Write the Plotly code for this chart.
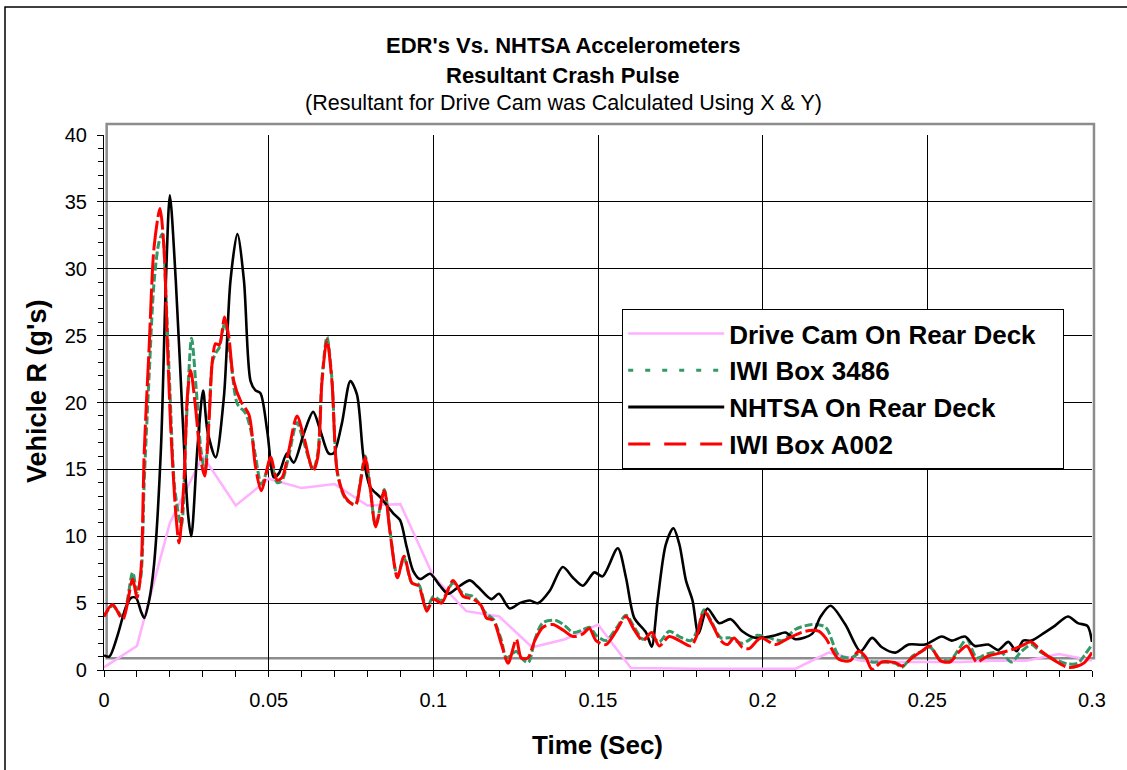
import plotly.graph_objects as go

# ---------------- data ----------------
drivecam_t = [0.00, 0.01, 0.02, 0.03, 0.04, 0.05, 0.06, 0.07, 0.08, 0.09,
              0.10, 0.11, 0.12, 0.13, 0.14, 0.15, 0.16, 0.17, 0.18, 0.19,
              0.20, 0.21, 0.22, 0.23, 0.24, 0.25, 0.26, 0.27, 0.28, 0.29,
              0.30]
drivecam_g = [0.2, 1.8, 11.0, 16.0, 12.3, 14.3, 13.6, 13.9, 12.3, 12.4,
              7.0, 4.4, 4.0, 1.7, 2.3, 3.4, 0.15, 0.1, 0.1, 0.1,
              0.1, 0.1, 1.3, 0.7, 0.6, 0.6, 0.6, 0.7, 0.7, 1.2,
              0.7]

nhtsa_t = [0.0000, 0.0016, 0.0040, 0.0065, 0.0082, 0.0097, 0.0112, 0.0122, 0.0137, 0.0152,
           0.0173, 0.0188, 0.0200, 0.0218, 0.0238, 0.0255, 0.0265, 0.0284, 0.0301, 0.0314,
           0.0339, 0.0364, 0.0384, 0.0405, 0.0425, 0.0445, 0.0460, 0.0475, 0.0496, 0.0516,
           0.0531, 0.0556, 0.0576, 0.0607, 0.0635, 0.0657, 0.0682, 0.0697, 0.0722, 0.0748,
           0.0768, 0.0788, 0.0808, 0.0839, 0.0879, 0.0899, 0.0919, 0.0939, 0.0960, 0.0990,
           0.1020, 0.1045, 0.1081, 0.1111, 0.1136, 0.1176, 0.1199, 0.1232, 0.1262, 0.1293,
           0.1318, 0.1353, 0.1393, 0.1424, 0.1454, 0.1489, 0.1514, 0.1560, 0.1585, 0.1610,
           0.1646, 0.1663, 0.1681, 0.1706, 0.1729, 0.1747, 0.1767, 0.1787, 0.1805, 0.1832,
           0.1868, 0.1903, 0.1938, 0.1979, 0.2039, 0.2069, 0.2100, 0.2150, 0.2176, 0.2206,
           0.2251, 0.2297, 0.2332, 0.2362, 0.2403, 0.2443, 0.2493, 0.2544, 0.2574, 0.2614,
           0.2644, 0.2685, 0.2715, 0.2746, 0.2771, 0.2791, 0.2816, 0.2856, 0.2887, 0.2927,
           0.2957, 0.2986, 0.3000]
nhtsa_g = [1.1, 1.0, 2.5, 4.6, 5.4, 5.4, 4.4, 3.9, 5.2, 7.9,
           16.6, 29.1, 35.5, 29.1, 19.2, 11.7, 10.0, 16.7, 20.9, 17.9,
           15.9, 20.4, 29.1, 32.6, 29.1, 21.6, 20.9, 20.7, 17.8, 14.4,
           14.7, 16.2, 15.5, 17.7, 19.3, 17.9, 16.2, 16.2, 18.4, 21.6,
           20.6, 15.9, 13.7, 12.9, 11.7, 11.2, 9.2, 7.4, 6.8, 7.2,
           6.3, 5.7, 6.3, 6.7, 6.2, 5.3, 5.7, 4.6, 5.0, 5.2,
           5.0, 5.9, 7.7, 6.9, 6.3, 7.3, 7.0, 9.1, 6.9, 3.9,
           2.8, 1.75, 5.2, 9.4, 10.6, 9.4, 6.7, 5.2, 2.7, 4.6,
           3.5, 3.8, 2.9, 2.4, 2.6, 2.8, 2.3, 2.7, 4.0, 4.8,
           3.4, 1.4, 2.4, 1.7, 1.3, 1.9, 1.9, 2.5, 2.2, 2.5,
           1.8, 1.9, 1.5, 2.1, 1.4, 2.2, 2.2, 2.8, 3.3, 4.0,
           3.5, 3.3, 2.1]

a002_t = [0.0000, 0.0026, 0.0057, 0.0087, 0.0100, 0.0112, 0.0122, 0.0137, 0.0152, 0.0170,
          0.0182, 0.0193, 0.0203, 0.0218, 0.0228, 0.0243, 0.0253, 0.0263, 0.0278, 0.0294,
          0.0306, 0.0319, 0.0329, 0.0339, 0.0350, 0.0366, 0.0379, 0.0394, 0.0415, 0.0440,
          0.0460, 0.0478, 0.0506, 0.0526, 0.0541, 0.0561, 0.0586, 0.0607, 0.0635, 0.0649,
          0.0662, 0.0677, 0.0692, 0.0709, 0.0733, 0.0763, 0.0778, 0.0793, 0.0808, 0.0825,
          0.0851, 0.0869, 0.0891, 0.0911, 0.0935, 0.0955, 0.0980, 0.1000, 0.1025, 0.1060,
          0.1091, 0.1121, 0.1146, 0.1161, 0.1182, 0.1207, 0.1227, 0.1252, 0.1267, 0.1287,
          0.1308, 0.1333, 0.1363, 0.1393, 0.1424, 0.1454, 0.1474, 0.1494, 0.1524, 0.1555,
          0.1585, 0.1610, 0.1636, 0.1663, 0.1686, 0.1716, 0.1747, 0.1782, 0.1802, 0.1822,
          0.1847, 0.1873, 0.1893, 0.1913, 0.1938, 0.1959, 0.1994, 0.2039, 0.2080, 0.2130,
          0.2170, 0.2191, 0.2231, 0.2266, 0.2291, 0.2312, 0.2332, 0.2362, 0.2403, 0.2423,
          0.2453, 0.2483, 0.2508, 0.2539, 0.2569, 0.2594, 0.2620, 0.2650, 0.2680, 0.2725,
          0.2755, 0.2786, 0.2816, 0.2846, 0.2887, 0.2927, 0.2957, 0.2977, 0.3000]
a002_g = [4.0, 4.9, 3.8, 6.8, 5.4, 7.4, 16.2, 24.1, 31.6, 34.5,
          31.6, 24.1, 17.9, 11.7, 9.5, 14.2, 20.4, 22.4, 19.6, 15.7,
          14.5, 18.7, 23.1, 24.4, 24.3, 26.4, 24.9, 21.6, 20.1, 19.1,
          15.2, 13.4, 15.9, 14.2, 14.4, 16.4, 19.0, 17.4, 14.9, 15.9,
          21.6, 24.7, 21.6, 14.7, 12.9, 12.3, 13.9, 15.9, 13.7, 10.7,
          13.4, 10.2, 6.9, 8.5, 6.5, 6.3, 4.4, 5.3, 5.0, 6.7,
          5.5, 5.3, 4.8, 3.9, 3.7, 1.9, 0.5, 2.3, 0.9, 0.9,
          2.2, 3.2, 3.4, 3.0, 2.5, 2.7, 3.1, 2.2, 1.9, 2.9,
          4.0, 3.0, 2.2, 2.8, 1.8, 2.5, 2.2, 1.8, 2.7, 4.4,
          3.4, 2.2, 1.9, 2.4, 1.7, 1.6, 2.4, 1.9, 2.4, 2.9,
          2.9, 2.4, 0.8, 0.7, 1.4, 1.0, 0.05, 0.6, 0.55, 0.3,
          0.9, 1.4, 1.8, 0.7, 0.6, 1.3, 1.8, 0.6, 1.0, 1.3,
          1.5, 1.8, 2.1, 1.4, 0.7, 0.2, 0.3, 0.55, 1.3]

box3486_t = [0.0000, 0.0026, 0.0057, 0.0087, 0.0100, 0.0112, 0.0122, 0.0137, 0.0152, 0.0167,
             0.0177, 0.0188, 0.0200, 0.0215, 0.0235, 0.0250, 0.0266, 0.0280, 0.0294, 0.0306,
             0.0319, 0.0329, 0.0339, 0.0350, 0.0367, 0.0384, 0.0405, 0.0430, 0.0445, 0.0460,
             0.0478, 0.0506, 0.0526, 0.0541, 0.0561, 0.0586, 0.0607, 0.0635, 0.0649, 0.0662,
             0.0677, 0.0692, 0.0709, 0.0733, 0.0763, 0.0778, 0.0793, 0.0808, 0.0825, 0.0851,
             0.0869, 0.0891, 0.0911, 0.0935, 0.0955, 0.0980, 0.1000, 0.1025, 0.1060, 0.1091,
             0.1121, 0.1141, 0.1161, 0.1182, 0.1207, 0.1222, 0.1252, 0.1267, 0.1288, 0.1310,
             0.1333, 0.1373, 0.1400, 0.1424, 0.1454, 0.1474, 0.1494, 0.1524, 0.1555, 0.1585,
             0.1610, 0.1636, 0.1663, 0.1686, 0.1716, 0.1747, 0.1782, 0.1802, 0.1822, 0.1847,
             0.1873, 0.1900, 0.1938, 0.1984, 0.2020, 0.2060, 0.2100, 0.2150, 0.2191, 0.2231,
             0.2266, 0.2291, 0.2312, 0.2332, 0.2362, 0.2403, 0.2423, 0.2453, 0.2483, 0.2508,
             0.2539, 0.2569, 0.2594, 0.2620, 0.2650, 0.2680, 0.2725, 0.2755, 0.2786, 0.2816,
             0.2846, 0.2887, 0.2927, 0.2957, 0.2977, 0.3000]
box3486_g = [4.0, 4.8, 4.0, 7.3, 5.8, 7.0, 14.0, 22.0, 29.0, 32.0,
             32.6, 28.0, 21.0, 13.5, 10.8, 18.5, 24.8, 21.0, 16.5, 14.9,
             19.0, 23.0, 23.7, 24.1, 26.0, 23.4, 19.9, 19.2, 18.0, 16.0,
             13.9, 15.5, 14.0, 14.2, 16.0, 18.5, 17.0, 15.0, 16.2, 21.8,
             24.9, 21.8, 14.7, 12.8, 12.4, 14.1, 16.0, 13.6, 10.8, 13.5,
             10.3, 7.0, 8.4, 6.5, 6.4, 4.6, 5.5, 5.2, 6.5, 5.7,
             5.5, 4.9, 4.2, 3.8, 2.2, 0.9, 1.4, 0.9, 0.55, 2.4,
             3.55, 3.7, 3.3, 2.8, 3.0, 3.2, 2.6, 2.2, 3.1, 4.1,
             3.2, 2.3, 2.5, 2.1, 2.9, 2.5, 2.2, 3.0, 4.5, 3.5,
             2.4, 2.4, 2.0, 2.6, 2.4, 2.2, 3.05, 3.4, 3.2, 1.1,
             0.9, 1.2, 0.9, 0.6, 0.6, 0.5, 0.2, 1.0, 1.4, 1.7,
             0.8, 0.7, 1.5, 2.3, 0.9, 1.2, 1.3, 0.6, 1.4, 1.9,
             1.3, 0.8, 0.45, 0.5, 1.1, 1.9]

series_names = ["Drive Cam On Rear Deck", "IWI Box 3486", "NHTSA On Rear Deck", "IWI Box A002"]
x_ticks = [0, 0.05, 0.1, 0.15, 0.2, 0.25, 0.3]
x_tick_text = ["0", "0.05", "0.1", "0.15", "0.2", "0.25", "0.3"]
y_ticks = [0, 5, 10, 15, 20, 25, 30, 35, 40]

# ---------------- styles ----------------
PINK = "#FFB0FF"
GREEN = "#339966"
BLACK = "#000000"
RED = "#FF0000"
FONT = "Liberation Sans, Arial, sans-serif"

fig = go.Figure()

# data traces (drawn)
fig.add_trace(go.Scatter(x=drivecam_t, y=drivecam_g, mode="lines", showlegend=False,
                         line=dict(color=PINK, width=2.5)))
fig.add_trace(go.Scatter(x=box3486_t, y=box3486_g, mode="lines", showlegend=False,
                         line=dict(color=GREEN, width=3, dash="8px,3px", shape="spline", smoothing=0.8)))
fig.add_trace(go.Scatter(x=nhtsa_t, y=nhtsa_g, mode="lines", showlegend=False,
                         line=dict(color=BLACK, width=2.6, shape="spline", smoothing=0.8)))
fig.add_trace(go.Scatter(x=a002_t, y=a002_g, mode="lines", showlegend=False,
                         line=dict(color=RED, width=3, dash="30px,4px", shape="spline", smoothing=0.8)))

# legend entries (the widest name is padded so the box keeps the reference width)
legend_labels = [series_names[0] + "\u00a0" * 3] + series_names[1:]
legend_styles = [dict(color=PINK, width=2.5),
                 dict(color=GREEN, width=3, dash="5px,12px"),
                 dict(color=BLACK, width=3),
                 dict(color=RED, width=3, dash="22px,14px")]
for i, (nm, st) in enumerate(zip(legend_labels, legend_styles)):
    fig.add_trace(go.Scatter(x=[None], y=[None], mode="lines", name=nm, line=st,
                             legendgroup=str(i)))

# plot-area frame (grey) and outer chart border
fig.add_shape(type="rect", xref="paper", yref="paper", x0=0.0027, x1=1.002, y0=0.0219, y1=1.0206,
              line=dict(color="#8C8C8C", width=2.5), layer="below")
fig.add_shape(type="rect", xref="paper", yref="paper", x0=-0.1002, x1=1.08, y0=-0.4, y1=1.2393,
              line=dict(color="black", width=1.5), layer="below")

# titles
ann = dict(xref="paper", yref="paper", showarrow=False, xanchor="center", yanchor="middle")
fig.add_annotation(text="<b>EDR's Vs. NHTSA Accelerometers</b>", x=0.4646, y=1.1676,
                   font=dict(family=FONT, size=22, color="black"), **ann)
fig.add_annotation(text="<b>Resultant Crash Pulse</b>", x=0.4646, y=1.1114,
                   font=dict(family=FONT, size=22, color="black"), **ann)
fig.add_annotation(text="(Resultant for Drive Cam was Calculated Using X & Y)", x=0.4646, y=1.0589,
                   font=dict(family=FONT, size=21.5, color="black"), **ann)
fig.add_annotation(text="<b>Vehicle R (g's)</b>", textangle=-90, x=-0.0678, y=0.5196,
                   font=dict(family=FONT, size=27, color="black"), **ann)
fig.add_annotation(text="<b>Time (Sec)</b>", x=0.4990, y=-0.1402,
                   font=dict(family=FONT, size=26, color="black"), **ann)

fig.update_layout(
    width=1127, height=770,
    margin=dict(l=104, r=35, t=135, b=100),
    paper_bgcolor="white", plot_bgcolor="white",
    font=dict(family=FONT, color="black"),
    legend=dict(x=0.5243, y=0.675, xanchor="left", yanchor="top",
                bgcolor="white", bordercolor="black", borderwidth=1.2,
                font=dict(family=FONT, size=26, color="black", weight="bold"),
                itemwidth=96, tracegroupgap=9, traceorder="normal"),
)
fig.update_xaxes(range=[0, 0.3], tickvals=x_ticks, ticktext=x_tick_text,
                 showgrid=True, gridcolor="black", gridwidth=1,
                 showline=True, linecolor="black", linewidth=1.2,
                 ticks="outside", ticklen=6, tickcolor="black", tickwidth=1,
                 tickfont=dict(family=FONT, size=20, color="black"), ticklabelstandoff=6,
                 minor=dict(dtick=0.01, ticks="outside", ticklen=6, tickcolor="black", showgrid=False),
                 zeroline=False)
fig.update_yaxes(range=[0, 40], tickvals=y_ticks,
                 showgrid=True, gridcolor="black", gridwidth=1,
                 showline=True, linecolor="black", linewidth=1.2,
                 ticks="outside", ticklen=6, tickcolor="black", tickwidth=1,
                 tickfont=dict(family=FONT, size=20, color="black"), ticklabelstandoff=6,
                 minor=dict(dtick=1, ticks="outside", ticklen=5, tickcolor="black", showgrid=False),
                 zeroline=False)

fig.write_html("out.html", config={"displayModeBar": False},
               post_script="document.body.style.margin='0px';")
